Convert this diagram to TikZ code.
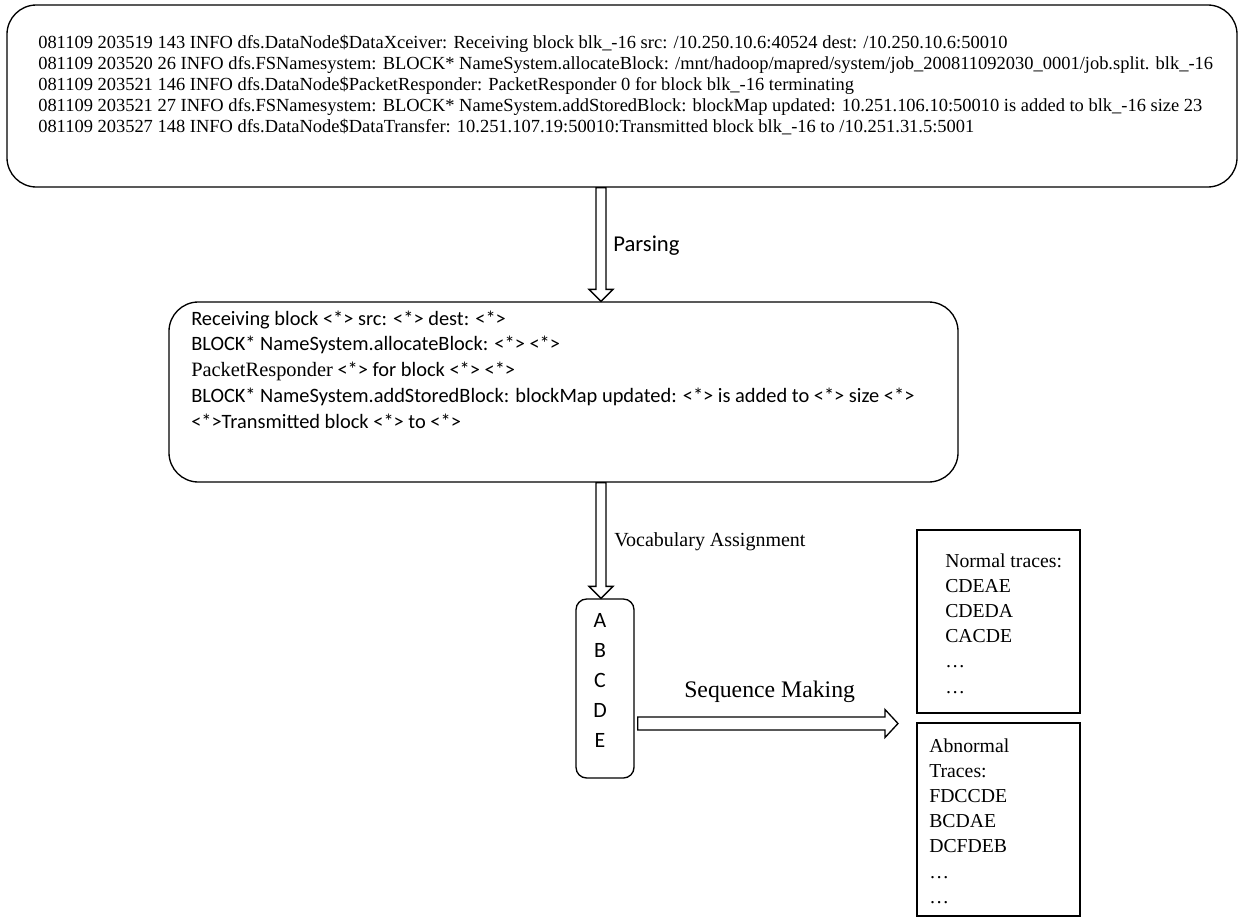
\documentclass[tikz,border=0pt]{standalone}
\usepackage{fontspec}
\setmainfont{Liberation Serif}
\newfontfamily\calibri{Carlito}
\usetikzlibrary{fit,calc}

\tikzset{
  roundbox/.style={draw, line width=1pt, rounded corners=22pt, inner sep=0pt},
  plainbox/.style={draw, line width=1pt, inner sep=0pt},
  logline/.style={anchor=base west, inner sep=0pt, font=\fontsize{13.85}{16}\selectfont},
  tplline/.style={anchor=base west, inner sep=0pt, font=\calibri\fontsize{15.3}{18}\selectfont},
  traceline/.style={anchor=base west, inner sep=0pt, font=\fontsize{14.8}{17}\selectfont},
  hollow/.style={draw, line width=1pt, fill=white, line join=miter},
}

% fat open arrows, from #1 to #2
\newcommand{\hollowdown}[2]{%
  \draw[hollow] ($(#1)+(-5,0)$) -- ($(#2)+(-5,-12)$) -- ($(#2)+(-12,-12)$) -- (#2)
    -- ($(#2)+(12,-12)$) -- ($(#2)+(5,-12)$) -- ($(#1)+(5,0)$) -- cycle;}
\newcommand{\hollowright}[2]{%
  \draw[hollow] ($(#1)+(3,-6.5)$) -- ($(#2)+(-13,-6.5)$) -- ($(#2)+(-13,-14)$) -- (#2)
    -- ($(#2)+(-13,14)$) -- ($(#2)+(-13,6.5)$) -- ($(#1)+(3,6.5)$) -- cycle;}

\begin{document}
\begin{tikzpicture}[x=0.75pt,y=-0.75pt]
\useasboundingbox (0,0) rectangle (1242,918);

% raw log
\node[roundbox, fit={(7,5) (1237,187)}] (logbox) {};
\foreach \txt [count=\i] in {
  {081109 203519 143 INFO dfs.DataNode\$DataXceiver: Receiving block blk\_-16 src: /10.250.10.6:40524 dest: /10.250.10.6:50010},
  {081109 203520 26 INFO dfs.FSNamesystem: BLOCK* NameSystem.allocateBlock: /mnt/hadoop/mapred/system/job\_200811092030\_0001/job.split. blk\_-16},
  {081109 203521 146 INFO dfs.DataNode\$PacketResponder: PacketResponder 0 for block blk\_-16 terminating},
  {081109 203521 27 INFO dfs.FSNamesystem: BLOCK* NameSystem.addStoredBlock: blockMap updated: 10.251.106.10:50010 is added to blk\_-16 size 23},
  {081109 203527 148 INFO dfs.DataNode\$DataTransfer: 10.251.107.19:50010:Transmitted block blk\_-16 to /10.251.31.5:5001}}
  \node[logline] (log\i) at (38,27+21*\i) {\txt};

% templates
\node[roundbox, fit={(169,302) (958,482)}] (tplbox) {};
\foreach \txt [count=\i] in {
  {Receiving block <*> src: <*> dest: <*>},
  {BLOCK* NameSystem.allocateBlock: <*> <*>},
  {{\rmfamily PacketResponder} <*> for block <*> <*>},
  {BLOCK* NameSystem.addStoredBlock: blockMap updated: <*> is added to <*> size <*>},
  {<*>Transmitted block <*> to <*>}}
  \node[tplline] (tpl\i) at (191,299.25+25.75*\i) {\txt};

% vocabulary
\node[roundbox, rounded corners=8pt, fit={(576,599) (634,778)}] (abcbox) {};
\foreach \l [count=\i] in {A,B,C,D,E}
  \node[anchor=base, inner sep=0pt, font=\calibri\fontsize{16.4}{18}\selectfont] (voc\l) at (600,598+29.8*\i) {\l};

% traces
\node[plainbox, fit={(917,530) (1080,713)}] (normalbox) {};
\foreach \txt [count=\i] in {Normal traces:,CDEAE,CDEDA,CACDE,\dots,\dots}
  \node[traceline] (norm\i) at (945,541.8+25.2*\i) {\txt};
\node[plainbox, fit={(917,723) (1080,916)}] (abnormalbox) {};
\foreach \txt [count=\i] in {Abnormal,Traces:,FDCCDE,BCDAE,DCFDEB,\dots,\dots}
  \node[traceline] (abn\i) at (929,726.8+25.2*\i) {\txt};

% arrows
\coordinate (col) at (601,0);
\coordinate (seqend) at (898,723.5);
\hollowdown{logbox.south -| col}{tplbox.north -| col}
\hollowdown{tplbox.south -| col}{abcbox.north -| col}
\hollowright{abcbox.east |- seqend}{seqend}

\node[anchor=base west, inner sep=0pt, font=\calibri\fontsize{17}{20}\selectfont] (parsing) at (613,251) {Parsing};
\node[anchor=base west, inner sep=0pt, font=\fontsize{15}{18}\selectfont] (vocab) at (614,546) {Vocabulary Assignment};
\node[anchor=base west, inner sep=0pt, font=\fontsize{17.8}{20}\selectfont] (seqmaking) at (684,697) {Sequence Making};
\end{tikzpicture}
\end{document}
